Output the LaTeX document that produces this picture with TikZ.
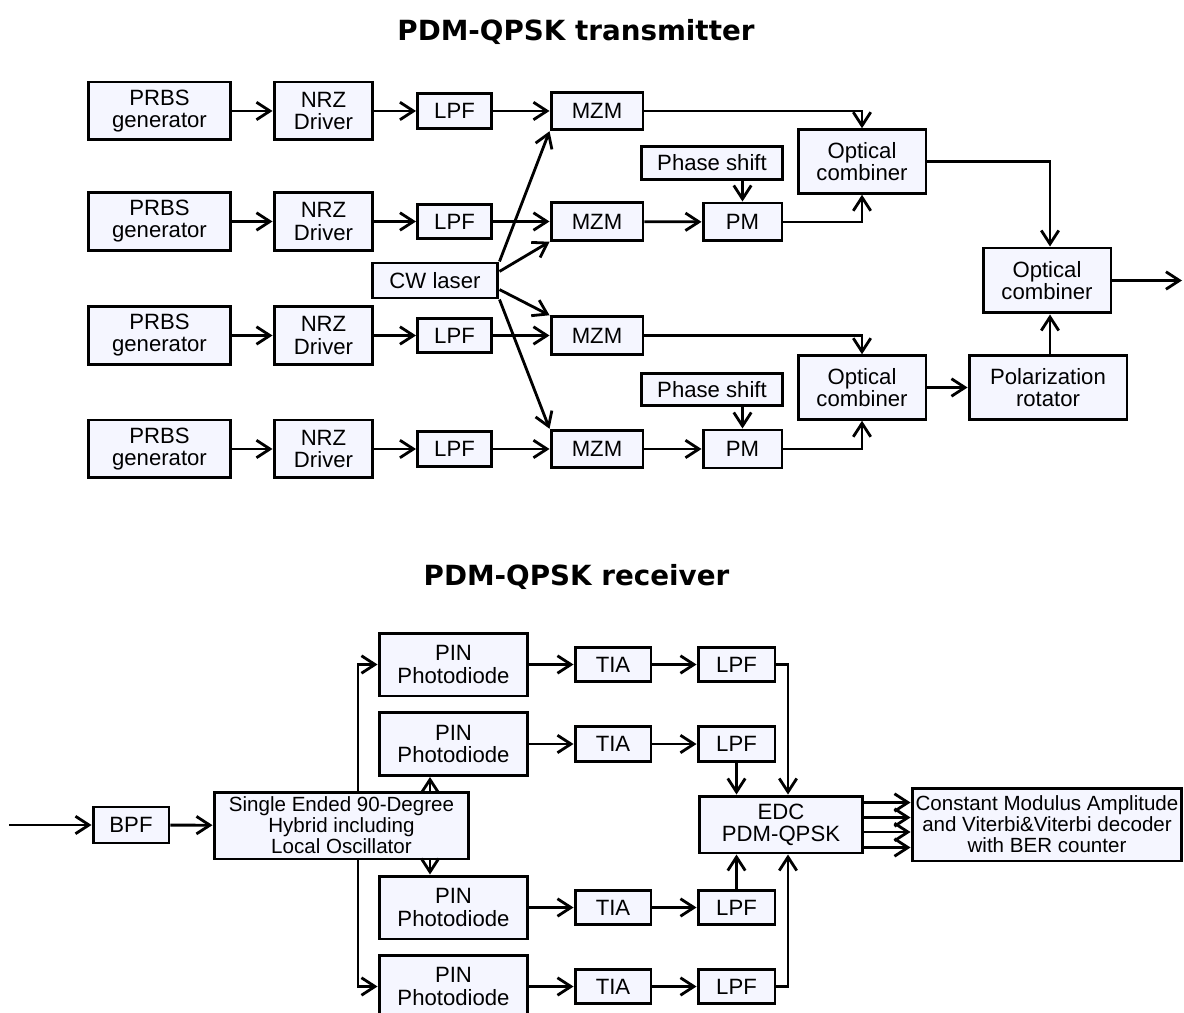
\documentclass[tikz,border=0pt]{standalone}
\usepackage{fontspec}
\setmainfont{Liberation Sans}
\newfontfamily\headfont{DejaVu Sans}
\usetikzlibrary{arrows.meta, positioning, calc}

\definecolor{boxfill}{RGB}{245,246,255}

\tikzset{
  block/.style = {draw, line width=1.7pt, fill=boxfill, align=center, inner sep=0pt,
                  font=\fontsize{12.6}{12.6}\selectfont},
  gen/.style   = {block, minimum width=2.86cm, minimum height=1.16cm},
  drv/.style   = {block, minimum width=1.98cm, minimum height=1.16cm},
  filt/.style  = {block, minimum width=1.48cm, minimum height=0.69cm},
  mzmbox/.style= {block, minimum width=1.84cm, minimum height=0.75cm},
  comb/.style  = {block, minimum width=2.56cm, minimum height=1.27cm},
  pdbox/.style = {block, minimum width=2.98cm, minimum height=1.26cm},
  arrow/.style = {line width=1.6pt, -{Straight Barb[length=2.7mm, width=3.5mm]}},
  heading/.style = {font=\headfont\bfseries\fontsize{15.8}{18}\selectfont}
}

\begin{document}
\begin{tikzpicture}[x=0.02cm, y=-0.02cm]
  \useasboundingbox (0,0) rectangle (1184,1013);

  % Transmitter
  \node[heading] (txtitle) at (576,32) {PDM-QPSK transmitter};

  \foreach \i/\y in {1/111, 2/221.5, 3/335.5, 4/449} {
    \node[gen] (gen\i) at (159.5,\y) {PRBS\\generator};
    \node[drv] (drv\i) at (323.5,\y) {NRZ\\Driver};
    \node[filt] (lpf\i) at (454.5,\y) {LPF};
    \node[mzmbox] (mzm\i) at (597,\y) {MZM};
    \draw[arrow] (gen\i) -- (drv\i);
    \draw[arrow] (drv\i) -- (lpf\i);
    \draw[arrow] (lpf\i) -- (mzm\i);
  }

  \node[block, minimum width=2.52cm, minimum height=0.7cm] (cw) at (435,280.5) {CW laser};
  \node[block, minimum width=2.84cm, minimum height=0.65cm] (ps1) at (712,163) {Phase shift};
  \node[block, minimum width=2.84cm, minimum height=0.65cm] (ps2) at (712,389.5) {Phase shift};
  \node[block, minimum width=1.58cm, minimum height=0.76cm] (pm1) at (742.5,222) {PM};
  \node[block, minimum width=1.58cm, minimum height=0.76cm] (pm2) at (742.5,449) {PM};
  \node[comb] (oc1) at (862,161.5) {Optical\\combiner};
  \node[comb] (oc2) at (862,387.5) {Optical\\combiner};
  \node[comb, minimum height=1.3cm] (oc3) at (1047,280.5) {Optical\\combiner};
  \node[block, minimum width=3.16cm, minimum height=1.27cm] (rot) at (1048,387.5) {Polarization\\rotator};
  \coordinate (txout) at (1182,280.5);

  % laser splitting
  \draw[arrow] (cw.north east) -- (mzm1.south west);
  \draw[arrow] (cw.8) -- (mzm2.south west);
  \draw[arrow] (cw.-8) -- (mzm3.north west);
  \draw[arrow] (cw.south east) -- (mzm4.north west);

  \draw[arrow] (mzm2) -- (pm1);
  \draw[arrow] (mzm4) -- (pm2);
  \draw[arrow] (ps1.south -| pm1) -- (pm1);
  \draw[arrow] (ps2.south -| pm2) -- (pm2);
  \draw[arrow] (mzm1) -| (oc1);
  \draw[arrow] (pm1) -| (oc1);
  \draw[arrow] (mzm3) -| (oc2);
  \draw[arrow] (pm2) -| (oc2);
  \draw[arrow] (oc1) -| ($(oc3.north)+(3,0)$);
  \draw[arrow] (oc2) -- (rot);
  \draw[arrow] ($(rot.north)+(2,0)$) -- ($(oc3.south)+(3,0)$);
  \draw[arrow] (oc3) -- (txout);

  % Receiver
  \node[heading] (rxtitle) at (576.5,577) {PDM-QPSK receiver};

  \coordinate (rxin) at (9,825);
  \node[block, minimum width=1.52cm, minimum height=0.72cm] (bpf) at (131,825) {BPF};
  \node[block, minimum width=5.1cm, minimum height=1.34cm,
        font=\fontsize{11.7}{11.9}\selectfont] (hyb) at (341.5,825.5)
       {Single Ended 90-Degree\\Hybrid including\\Local Oscillator};
  \node[block, minimum width=3.28cm, minimum height=1.14cm] (edc) at (781,824.5) {EDC\\PDM-QPSK};
  \node[block, minimum width=5.4cm, minimum height=1.46cm,
        font=\fontsize{11.7}{11.9}\selectfont] (dec) at (1047,824.5)
       {Constant Modulus Amplitude\\and Viterbi\&Viterbi decoder\\with BER counter};

  \foreach \i/\y in {1/664.5, 2/744, 3/907.5, 4/986.5} {
    \node[pdbox] (pd\i) at (453.5,\y) {PIN\\Photodiode};
    \node[filt, minimum width=1.52cm] (tia\i) at (613,\y) {TIA};
    \node[filt, minimum width=1.54cm] (rlpf\i) at (736.5,\y) {LPF};
    \draw[arrow] (pd\i) -- (tia\i);
    \draw[arrow] (tia\i) -- (rlpf\i);
  }

  \draw[arrow] (rxin) -- (bpf);
  \draw[arrow] (bpf) -- (hyb);

  \coordinate (hup) at ($(hyb.north)+(16.5,0)$);
  \coordinate (hdn) at ($(hyb.south)+(16.5,0)$);
  \coordinate (hup2) at ($(hyb.north)+(88.5,0)$);
  \coordinate (hdn2) at ($(hyb.south)+(88.5,0)$);
  \draw[arrow] (hup) |- (pd1);
  \draw[arrow] (hup2) -- (hup2 |- pd2.south);
  \draw[arrow] (hdn2) -- (hdn2 |- pd3.north);
  \draw[arrow] (hdn) |- (pd4);

  \draw[arrow] (rlpf1) -| ($(edc.north)+(7,0)$);
  \draw[arrow] (rlpf2) -- (rlpf2 |- edc.north);
  \draw[arrow] (rlpf3) -- (rlpf3 |- edc.south);
  \draw[arrow] (rlpf4) -| ($(edc.south)+(7,0)$);

  \foreach \dy in {0.44, 0.14, -0.15, -0.46}
    \draw[arrow] ([yshift=\dy cm]edc.east) -- ([yshift=\dy cm]dec.west);

\end{tikzpicture}
\end{document}
